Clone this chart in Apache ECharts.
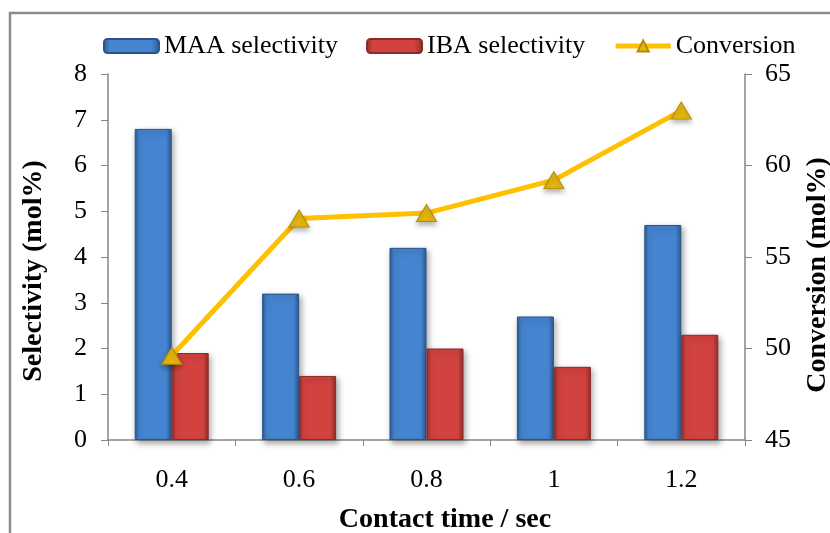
<!DOCTYPE html>
<html>
<head>
<meta charset="utf-8">
<script src="https://cdn.jsdelivr.net/npm/echarts@6/dist/echarts.min.js"></script>
<style>
  html, body { margin: 0; padding: 0; background: #fff; }
  #chart { width: 830px; height: 533px; }
</style>
</head>
<body>
<div id="chart"></div>
<script>
// Contact time categories and measured values
const contactTimes = ['0.4', '0.6', '0.8', '1', '1.2'];
const maaSelectivity = [6.8, 3.2, 4.2, 2.7, 4.7];
const ibaSelectivity = [1.9, 1.4, 2.0, 1.6, 2.3];
const conversion = [49.6, 57.1, 57.4, 59.2, 63.0];

const seriesNames = ['MAA selectivity', 'IBA selectivity', 'Conversion'];
const FONT = '"Liberation Serif", "Times New Roman", serif';

function barFill(dark, light) {
  return new echarts.graphic.LinearGradient(0, 0, 1, 0, [
    { offset: 0, color: dark },
    { offset: 0.12, color: light },
    { offset: 0.85, color: light },
    { offset: 1, color: dark }
  ]);
}

const chart = echarts.init(document.getElementById('chart'), null, { renderer: 'canvas' });

chart.setOption({
  backgroundColor: '#fff',
  animation: false,
  textStyle: { fontFamily: FONT },
  grid: { left: 108, right: 85, top: 74, bottom: 93, containLabel: false },
  legend: {
    data: [
      { name: seriesNames[0] },
      { name: seriesNames[1] },
      { name: seriesNames[2], lineStyle: { width: 5, color: '#FFC000' } }
    ],
    left: 103,
    top: 33,
    padding: 0,
    itemWidth: 55,
    itemHeight: 14,
    itemGap: 28,
    textStyle: { fontFamily: FONT, fontSize: 26, color: '#000' }
  },
  xAxis: {
    type: 'category',
    data: contactTimes,
    boundaryGap: true,
    axisLine: { lineStyle: { color: '#868686', width: 1.5 } },
    axisTick: { show: true, inside: false, length: 6, lineStyle: { color: '#868686' } },
    axisLabel: { color: '#000', fontSize: 26, fontFamily: FONT, margin: 27 }
  },
  yAxis: [
    {
      type: 'value',
      min: 0, max: 8, interval: 1,
      splitLine: { show: false },
      axisLine: { show: true, lineStyle: { color: '#868686', width: 1.5 } },
      axisTick: { show: true, inside: false, length: 7, lineStyle: { color: '#868686' } },
      axisLabel: { color: '#000', fontSize: 26, fontFamily: FONT, margin: 21 }
    },
    {
      type: 'value',
      min: 45, max: 65, interval: 5,
      position: 'right',
      splitLine: { show: false },
      axisLine: { show: true, lineStyle: { color: '#868686', width: 1.5 } },
      axisTick: { show: true, inside: false, length: 7, lineStyle: { color: '#868686' } },
      axisLabel: { color: '#000', fontSize: 26, fontFamily: FONT, margin: 20 }
    }
  ],
  series: [
    {
      name: seriesNames[0],
      type: 'bar',
      data: maaSelectivity,
      barWidth: 37,
      barGap: '0%',
      itemStyle: {
        color: barFill('#2d5a91', '#4584d0'),
        borderColor: '#2a5487',
        borderWidth: 1,
        shadowColor: 'rgba(0,0,0,0.35)',
        shadowBlur: 6,
        shadowOffsetX: 2,
        shadowOffsetY: 3
      }
    },
    {
      name: seriesNames[1],
      type: 'bar',
      data: ibaSelectivity,
      barWidth: 37,
      barGap: '0%',
      itemStyle: {
        color: barFill('#8f2f2c', '#d2423f'),
        borderColor: '#862b29',
        borderWidth: 1,
        shadowColor: 'rgba(0,0,0,0.35)',
        shadowBlur: 6,
        shadowOffsetX: 2,
        shadowOffsetY: 3
      }
    },
    {
      name: seriesNames[2],
      type: 'line',
      yAxisIndex: 1,
      data: conversion,
      symbol: 'triangle',
      symbolSize: [20, 17],
      lineStyle: { color: '#FFC000', width: 5 },
      itemStyle: {
        color: '#E8B70C',
        borderColor: '#B08B08',
        borderWidth: 1,
        shadowColor: 'rgba(0,0,0,0.3)',
        shadowBlur: 5,
        shadowOffsetY: 3
      },
      z: 5
    }
  ],
  graphic: [
    {
      type: 'rect',
      shape: { x: 10, y: 13, width: 840, height: 560 },
      style: { fill: 'none', stroke: '#8c8c8c', lineWidth: 2.5 },
      silent: true
    },
    {
      type: 'text',
      x: 34, y: 271,
      rotation: Math.PI / 2,
      style: {
        text: 'Selectivity (mol%)',
        font: 'bold 28px ' + FONT,
        fill: '#000',
        align: 'center',
        verticalAlign: 'middle'
      }
    },
    {
      type: 'text',
      x: 818, y: 275,
      rotation: Math.PI / 2,
      style: {
        text: 'Conversion (mol%)',
        font: 'bold 28px ' + FONT,
        fill: '#000',
        align: 'center',
        verticalAlign: 'middle'
      }
    },
    {
      type: 'text',
      x: 445, y: 520,
      style: {
        text: 'Contact time / sec',
        font: 'bold 28px ' + FONT,
        fill: '#000',
        align: 'center',
        verticalAlign: 'middle'
      }
    }
  ]
});
</script>
</body>
</html>
